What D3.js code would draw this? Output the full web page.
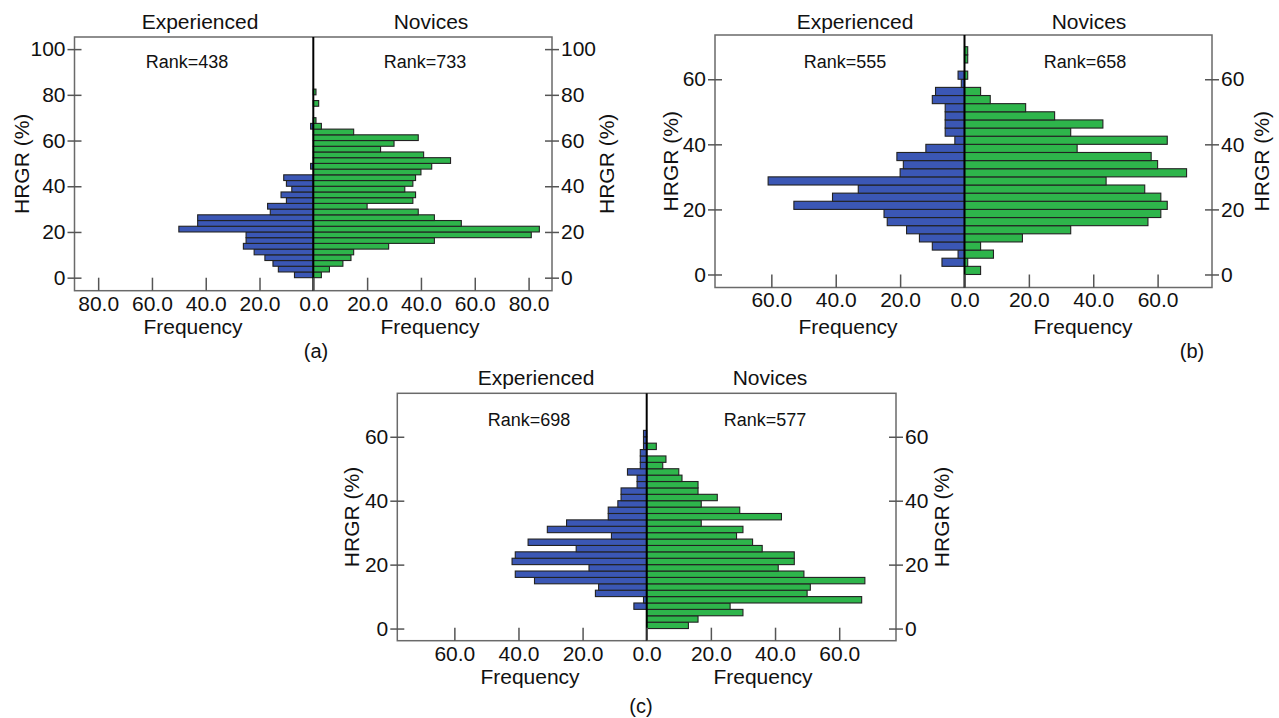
<!DOCTYPE html>
<html>
<head>
<meta charset="utf-8">
<script src="https://cdn.jsdelivr.net/npm/d3@7"></script>
<style>
  body { margin: 0; background: #fff; }
  svg { display: block; font-family: "Liberation Sans", Arial, sans-serif; }
  .axis text { font-size: 21px; fill: #111; }
  .axis line { stroke: #555; stroke-width: 1.5; }
  .axis path { display: none; }
</style>
</head>
<body>
<svg></svg>
<script>
// HRGR bins: counts from the lowest bin upwards
let binA = 2.5
let expA = [7, 13, 15, 18, 22, 26, 25, 25, 50, 43, 43, 16, 17, 10, 12, 8, 10, 11, 0, 1, 0, 0, 0, 0, 0, 0, 1]
let novA = [3, 6, 11, 14, 15, 28, 45, 81, 84, 55, 45, 39, 20, 37, 38, 34, 37, 38, 40, 44, 51, 41, 25, 30, 39, 15, 3, 1, 0, 0, 2, 0, 1]

let binB = 2.5
let expB = [0, 7, 2, 10, 14, 18, 24, 25, 53, 41, 33, 61, 20, 19, 21, 12, 3, 6, 6, 6, 6, 10, 9, 1, 2]
let novB = [5, 1, 9, 5, 18, 33, 57, 61, 63, 61, 56, 44, 69, 60, 58, 35, 63, 33, 43, 28, 19, 8, 5, 0, 1, 0, 1, 1]

let binC = 2
let expC = [0, 0, 0, 4, 1, 16, 15, 35, 41, 18, 42, 41, 22, 37, 11, 31, 25, 12, 12, 9, 8, 8, 3, 3, 6, 2, 2, 2, 1, 1, 1]
let novC = [13, 16, 30, 26, 67, 50, 51, 68, 49, 41, 46, 46, 36, 33, 28, 30, 17, 42, 29, 17, 22, 16, 16, 11, 10, 5, 6, 0, 3]

let ranksExp = [438, 555, 698]
let ranksNov = [733, 658, 577]
let panelLabels = ['(a)', '(b)', '(c)']

let hrgrTicksA = [0, 20, 40, 60, 80, 100]
let hrgrTicksBC = [0, 20, 40, 60]
let freqTicksA = [0, 20, 40, 60, 80]
let freqTicksBC = [0, 20, 40, 60]

let width = 1279
let height = 718

let blue = '#3b57b5'
let green = '#2eb54b'

let svg = d3.select('svg')
svg.attr('width', width).attr('height', height)

// layout of each pyramid
let panels = [
  { exp: expA, nov: novA, bin: binA, yTicks: hrgrTicksA, xTicks: freqTicksA,
    x0: 74.5, x1: 552, zero: 313.3, top: 37, bottom: 290.7,
    maxL: 88.8, maxR: 88.7, yMin: -5.7, yMax: 105.3,
    expTitleX: 200, novTitleX: 431, titleY: 29,
    rankExpX: 187, rankNovX: 425, rankY: 68,
    freqLX: 193, freqRX: 430, freqY: 334,
    hrgrLX: 22, hrgrRX: 607, labelX: 316, labelY: 358 },
  { exp: expB, nov: novB, bin: binB, yTicks: hrgrTicksBC, xTicks: freqTicksBC,
    x0: 715, x1: 1212, zero: 964.5, top: 35, bottom: 287.5,
    maxL: 77.5, maxR: 76.9, yMin: -4.0, yMax: 73.6,
    expTitleX: 855, novTitleX: 1089, titleY: 29,
    rankExpX: 845, rankNovX: 1085, rankY: 68,
    freqLX: 848, freqRX: 1083, freqY: 334,
    hrgrLX: 671, hrgrRX: 1262, labelX: 1192, labelY: 358 },
  { exp: expC, nov: novC, bin: binC, yTicks: hrgrTicksBC, xTicks: freqTicksBC,
    x0: 397.3, x1: 896, zero: 646.7, top: 393.3, bottom: 640.7,
    maxL: 77.8, maxR: 77.7, yMin: -3.8, yMax: 73.6,
    expTitleX: 536, novTitleX: 770, titleY: 385,
    rankExpX: 529, rankNovX: 765, rankY: 426,
    freqLX: 530, freqRX: 763, freqY: 684,
    hrgrLX: 352, hrgrRX: 942, labelX: 641, labelY: 713 }
]

let drawPanel = (p, i) => {
  let g = svg.append('g')

  let yScale = d3.scaleLinear().domain([p.yMin, p.yMax]).range([p.bottom, p.top])
  let xLeft = d3.scaleLinear().domain([0, p.maxL]).range([p.zero, p.x0])
  let xRight = d3.scaleLinear().domain([0, p.maxR]).range([p.zero, p.x1])

  let toBins = (arr) => arr.map((v, k) => ({ lo: k * p.bin, hi: (k + 1) * p.bin, v: v })).filter(d => d.v > 0)

  g.selectAll('.exp')
   .data(toBins(p.exp))
   .enter()
   .append('rect')
   .attr('x', d => xLeft(d.v))
   .attr('y', d => yScale(d.hi))
   .attr('width', d => xLeft(0) - xLeft(d.v))
   .attr('height', d => yScale(d.lo) - yScale(d.hi))
   .attr('fill', blue)
   .attr('stroke', '#222')
   .attr('stroke-width', 1.1)

  g.selectAll('.nov')
   .data(toBins(p.nov))
   .enter()
   .append('rect')
   .attr('x', xRight(0))
   .attr('y', d => yScale(d.hi))
   .attr('width', d => xRight(d.v) - xRight(0))
   .attr('height', d => yScale(d.lo) - yScale(d.hi))
   .attr('fill', green)
   .attr('stroke', '#222')
   .attr('stroke-width', 1.1)

  // frame
  g.append('rect')
   .attr('x', p.x0)
   .attr('y', p.top)
   .attr('width', p.x1 - p.x0)
   .attr('height', p.bottom - p.top)
   .attr('fill', 'none')
   .attr('stroke', '#6a6a6a')
   .attr('stroke-width', 1.5)

  g.append('line')
   .attr('x1', p.zero).attr('x2', p.zero)
   .attr('y1', p.top).attr('y2', p.bottom)
   .attr('stroke', '#000')
   .attr('stroke-width', 2)

  // HRGR axes, ticks crossing the frame
  g.append('g')
   .attr('class', 'axis')
   .attr('transform', 'translate(' + (p.x0 + 7) + ',0)')
   .call(d3.axisLeft(yScale).tickValues(p.yTicks).tickSize(14).tickPadding(2).tickFormat(d3.format('d')))

  g.append('g')
   .attr('class', 'axis')
   .attr('transform', 'translate(' + (p.x1 - 7) + ',0)')
   .call(d3.axisRight(yScale).tickValues(p.yTicks).tickSize(14).tickPadding(2).tickFormat(d3.format('d')))

  // frequency axes, ticks pointing inward
  g.append('g')
   .attr('class', 'axis')
   .attr('transform', 'translate(0,' + p.bottom + ')')
   .call(d3.axisBottom(xLeft).tickValues(p.xTicks).tickSizeInner(-13).tickSizeOuter(0).tickPadding(5).tickFormat(d3.format('.1f')))

  g.append('g')
   .attr('class', 'axis')
   .attr('transform', 'translate(0,' + p.bottom + ')')
   .call(d3.axisBottom(xRight).tickValues(p.xTicks.filter(t => t > 0)).tickSizeInner(-13).tickSizeOuter(0).tickPadding(5).tickFormat(d3.format('.1f')))

  let text = (x, y, s, size) => g.append('text')
    .attr('x', x).attr('y', y)
    .attr('text-anchor', 'middle')
    .attr('font-size', size)
    .attr('fill', '#111')
    .text(s)

  text(p.expTitleX, p.titleY, 'Experienced', 21)
  text(p.novTitleX, p.titleY, 'Novices', 21)
  text(p.rankExpX, p.rankY, 'Rank=' + ranksExp[i], 18)
  text(p.rankNovX, p.rankY, 'Rank=' + ranksNov[i], 18)
  text(p.freqLX, p.freqY, 'Frequency', 21)
  text(p.freqRX, p.freqY, 'Frequency', 21)
  text(p.labelX, p.labelY, panelLabels[i], 20)

  let midY = (p.top + p.bottom) / 2
  ;[p.hrgrLX, p.hrgrRX].forEach(hx => {
    g.append('text')
     .attr('transform', 'translate(' + hx + ',' + midY + ') rotate(-90)')
     .attr('text-anchor', 'middle')
     .attr('dy', '0.35em')
     .attr('font-size', 21)
     .attr('fill', '#111')
     .text('HRGR (%)')
  })
}

panels.forEach(drawPanel)
</script>
</body>
</html>
